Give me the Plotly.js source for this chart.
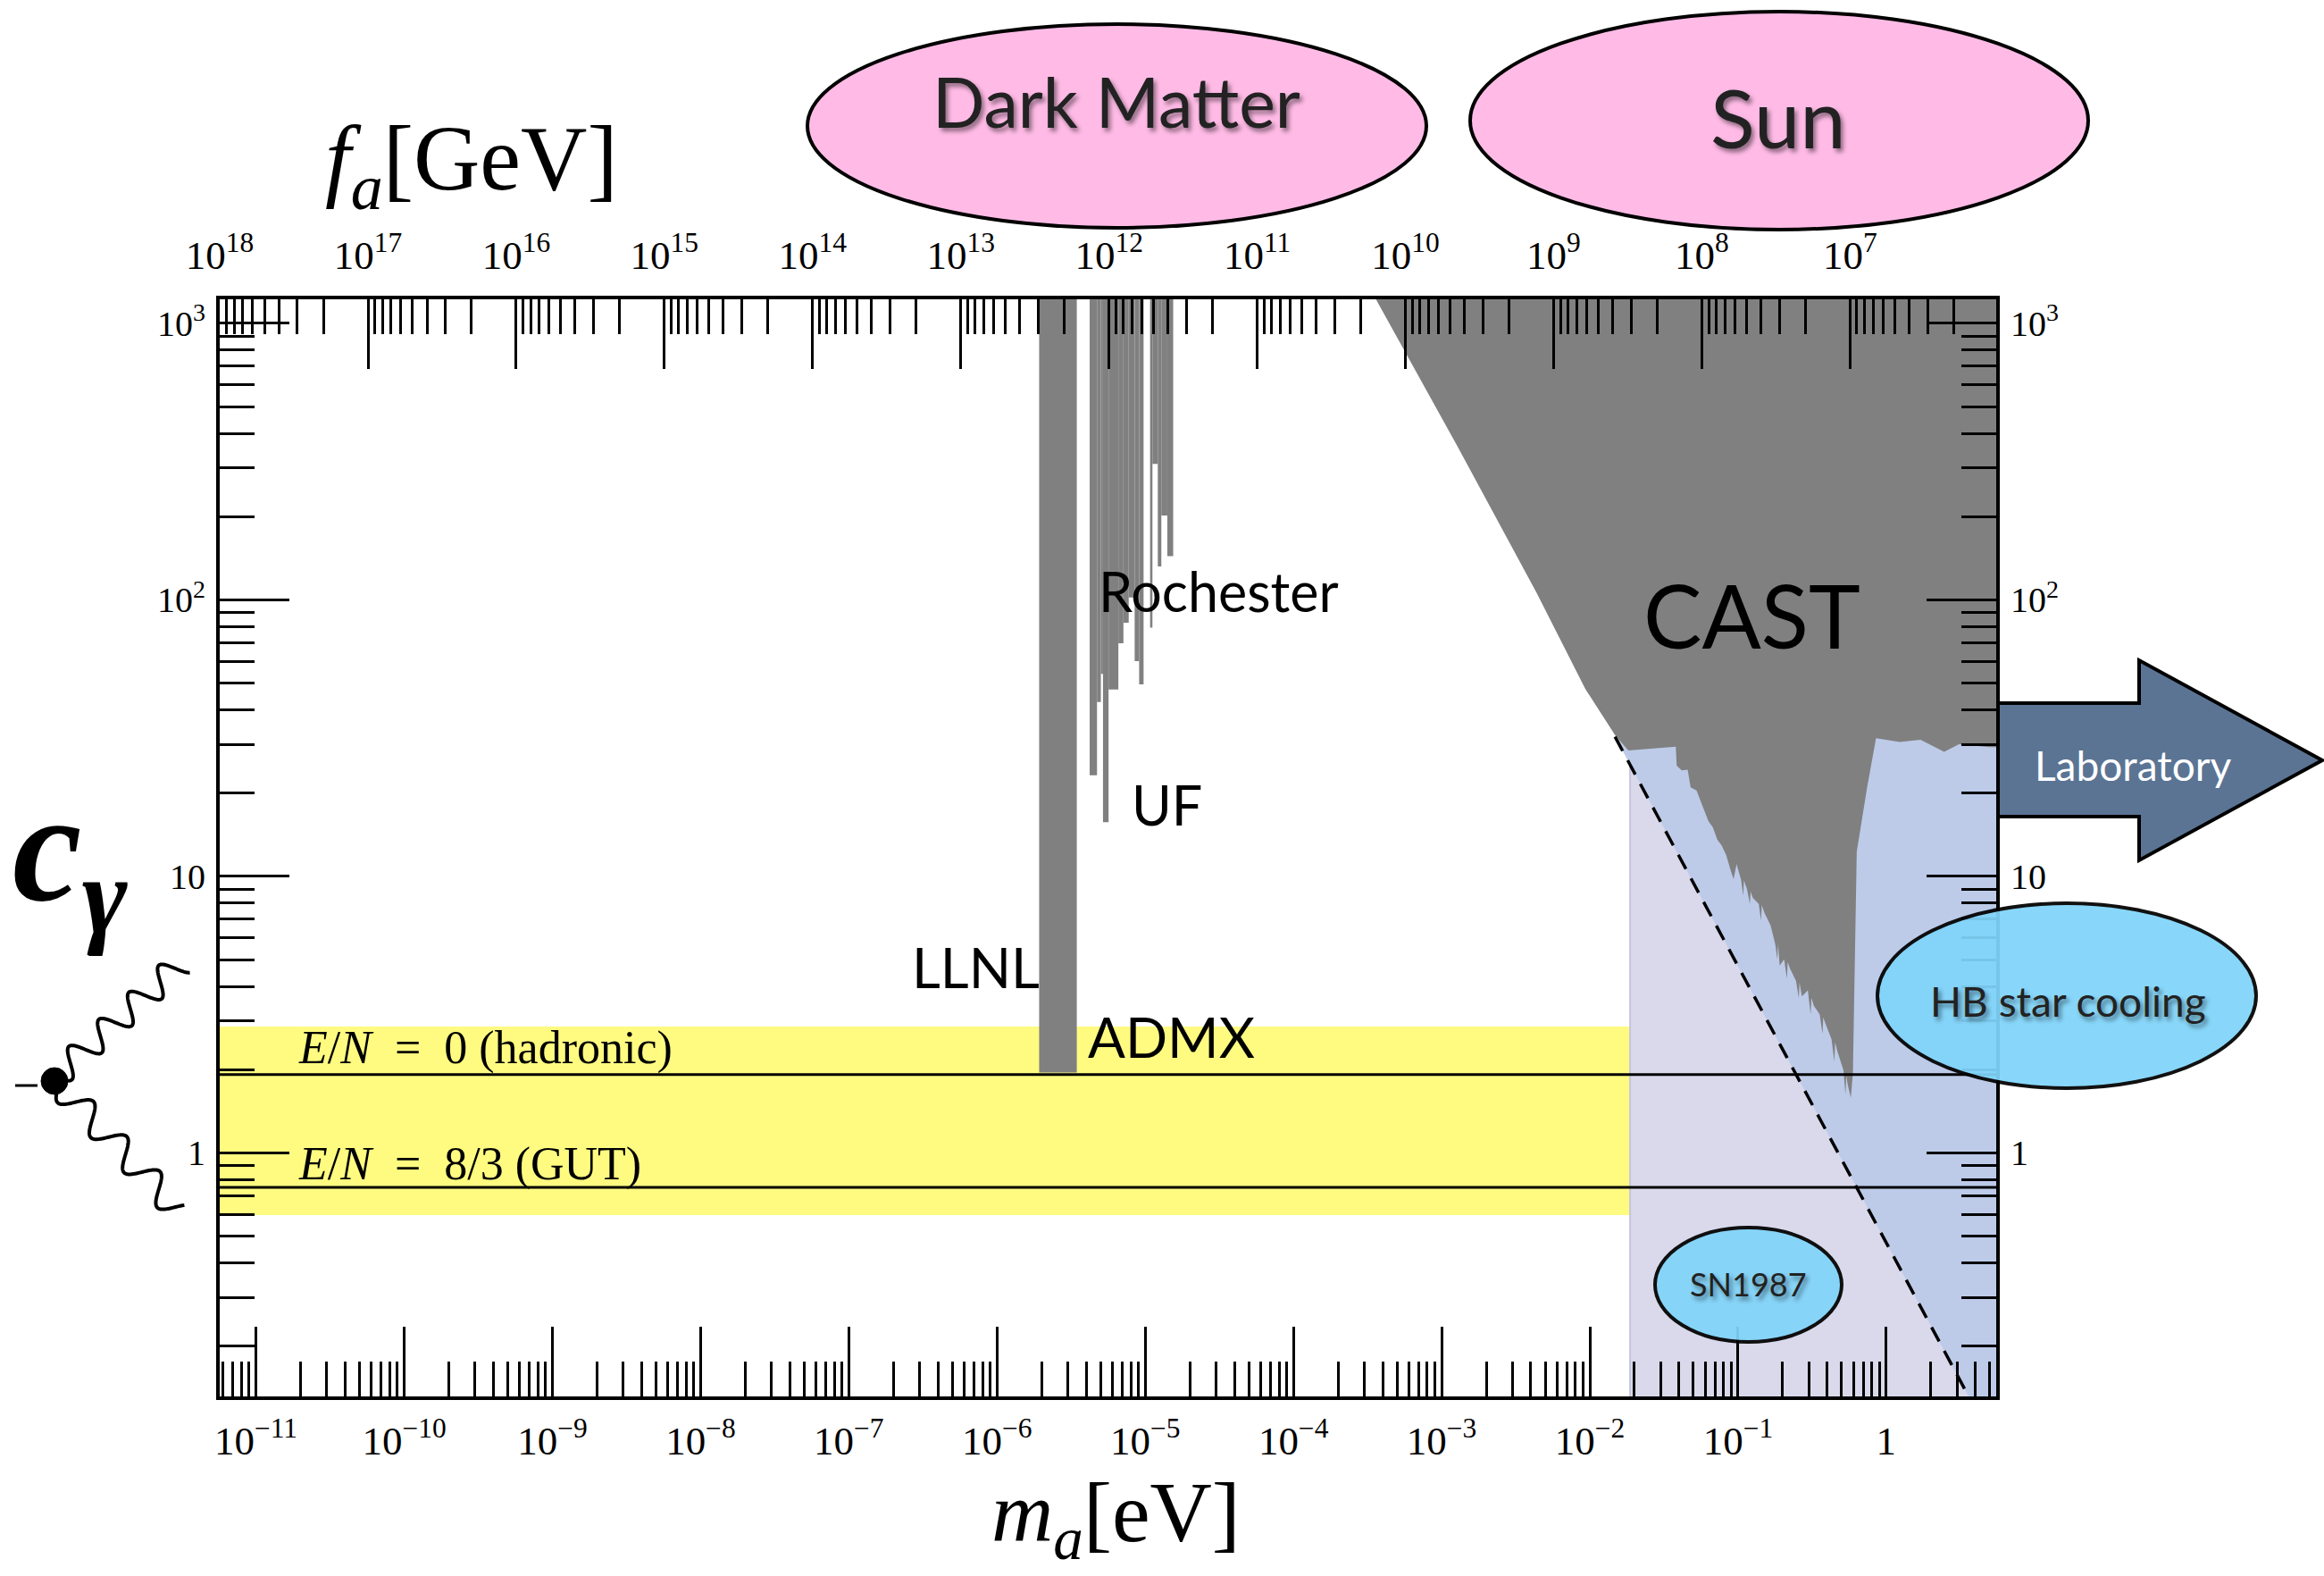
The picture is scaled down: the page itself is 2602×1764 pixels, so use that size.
<!DOCTYPE html>
<html><head><meta charset="utf-8">
<script src="https://cdn.plot.ly/plotly-3.0.1.min.js"></script>
<style>body{margin:0;background:#fff}</style>
</head><body>
<div id="chart" style="width:2602px;height:1764px"></div>
<script>
// ---------------- data ----------------
const FA_TIMES_MA = 5.7e6;               // f_a [GeV] * m_a [eV]
const massLog10Range = [-11.2445, 0.742]; // visible m_a range (log10 eV)
const cLog10Range = [-0.881, 3.087];      // visible c_gamma range (log10)

const massTickExponents = [-11,-10,-9,-8,-7,-6,-5,-4,-3,-2,-1,0];
const faTickExponents = [18,17,16,15,14,13,12,11,10,9,8,7];
const cTickExponents = [0,1,2,3];

// model lines
const hadronicC = 1.92;   // E/N = 0
const gutC = 0.75;        // E/N = 8/3
// yellow band of QCD axion models
const bandMass = [1e-12, 0.0187];
const bandC = [0.596, 2.86];
// lavender region (SN1987)
const snMass = [0.0187, 7];
const snC = [0.12, 28.5];
// ADMX + LLNL
const admxMass = [1.925e-6, 3.455e-6];
const admxCBottom = 1.95;
const cTopBeyond = 2000;
// Rochester / UF strips
const stripMassLo = [4.22e-6,4.73e-6,5.02e-6,5.19e-6,5.66e-6,6.59e-6,7.13e-6,7.74e-6,8.49e-6,9.10e-6,1.079e-5,1.119e-5,1.216e-5,1.285e-5,1.41e-5];
const stripMassHi = [4.73e-6,5.02e-6,5.19e-6,5.66e-6,6.59e-6,7.13e-6,7.74e-6,8.49e-6,9.10e-6,9.75e-6,1.119e-5,1.216e-5,1.285e-5,1.41e-5,1.545e-5];
const stripCBottom = [23.2,42.7,54,15.7,47.4,69.7,82.6,102,60,49.5,79.3,310,132,202,144];
// CAST exclusion (log10 m_a, log10 c_gamma)
const castLog10Mass = [-3.56,-2.90,-2.36,-2.03,-1.83,-1.74,-1.42,-1.414,-1.38,-1.34,-1.32,-1.28,-1.24,-1.20,-1.17,-1.14,-1.11,-1.08,-1.05,-1.03,-1.01,-0.98,-0.965,-0.96,-0.94,-0.92,-0.915,-0.90,-0.86,-0.845,-0.84,-0.82,-0.78,-0.749,-0.735,-0.73,-0.719,-0.689,-0.67,-0.665,-0.649,-0.609,-0.59,-0.585,-0.569,-0.529,-0.51,-0.505,-0.489,-0.449,-0.43,-0.425,-0.409,-0.369,-0.35,-0.345,-0.329,-0.289,-0.275,-0.27,-0.259,-0.239,-0.225,-0.213,-0.199,-0.169,-0.129,-0.069,0.091,0.231,0.391,0.491,0.695,0.80,0.80];
const castLog10C    = [3.2,2.562,2.026,1.6775,1.511,1.455,1.469,1.400,1.383,1.386,1.322,1.311,1.255,1.200,1.177,1.133,1.111,1.077,1.022,0.99,1.044,0.989,0.93,0.985,0.955,0.90,0.945,0.922,0.900,0.84,0.895,0.866,0.822,0.755,0.70,0.755,0.677,0.700,0.63,0.69,0.666,0.622,0.56,0.615,0.566,0.588,0.50,0.56,0.533,0.500,0.43,0.49,0.466,0.411,0.33,0.40,0.366,0.299,0.21,0.28,0.244,0.199,0.288,0.733,1.089,1.189,1.322,1.500,1.486,1.494,1.450,1.478,1.467,1.467,3.2];
// laboratory (blue) region right of the dashed line
const labLog10Mass = [-1.83,0.575,0.80,0.80,-1.83];
const labLog10C    = [1.505,-0.90,-0.90,1.50,1.505];
// dashed line
const dashLog10Mass = [-1.83,0.575];
const dashLog10C    = [1.505,-0.90];

// ---------------- helpers ----------------
const pow10 = v => Math.pow(10, v);
const px = x => (x - 246) / 1989;   // page pixel -> paper
const py = y => (1563 - y) / 1228;
function powLabel(e){ if(e===0) return '1'; if(e===1) return '10'; return '10<sup>'+(e<0?'\u2212':'')+Math.abs(e)+'</sup>'; }
function minorVals(d0,d1){ const v=[]; for(let d=d0; d<=d1; d++) for(let k=2;k<=9;k++) v.push(k*Math.pow(10,d)); return v; }

const GRAY='#808080', YELLOW='#FFFB80', LAV='#D9D9EB', BLUE='#BDCBE9';

const traces = [];
traces.push({x:[bandMass[0],bandMass[1],bandMass[1],bandMass[0],bandMass[0]], y:[bandC[0],bandC[0],bandC[1],bandC[1],bandC[0]],
  mode:'lines', fill:'toself', fillcolor:YELLOW, line:{width:0}, hoverinfo:'skip'});
traces.push({x:[snMass[0],snMass[1],snMass[1],snMass[0],snMass[0]], y:[snC[0],snC[0],snC[1],snC[1],snC[0]],
  mode:'lines', fill:'toself', fillcolor:LAV, line:{width:2,color:'#C4C4DE'}, hoverinfo:'skip'});
traces.push({x:labLog10Mass.map(pow10), y:labLog10C.map(pow10), mode:'lines', fill:'toself', fillcolor:BLUE, line:{width:0}, hoverinfo:'skip'});
traces.push({x:castLog10Mass.map(pow10), y:castLog10C.map(pow10), mode:'lines', fill:'toself', fillcolor:GRAY, line:{width:0}, hoverinfo:'skip'});
traces.push({x:[admxMass[0],admxMass[1],admxMass[1],admxMass[0],admxMass[0]], y:[cTopBeyond,cTopBeyond,admxCBottom,admxCBottom,cTopBeyond],
  mode:'lines', fill:'toself', fillcolor:GRAY, line:{width:0}, hoverinfo:'skip'});
stripMassLo.forEach((lo,i)=>{
  const hi=stripMassHi[i], b=stripCBottom[i];
  traces.push({x:[lo,hi,hi,lo,lo], y:[cTopBeyond,cTopBeyond,b,b,cTopBeyond], mode:'lines', fill:'toself', fillcolor:GRAY, line:{width:0}, hoverinfo:'skip'});
});
traces.push({x:[1e-12,7], y:[hadronicC,hadronicC], mode:'lines', line:{color:'black',width:3}, hoverinfo:'skip'});
traces.push({x:[1e-12,7], y:[gutC,gutC], mode:'lines', line:{color:'black',width:3}, hoverinfo:'skip'});
traces.push({x:dashLog10Mass.map(pow10), y:dashLog10C.map(pow10), mode:'lines', line:{color:'black',width:3.5,dash:'18px,12px'}, hoverinfo:'skip'});
// invisible helpers so the secondary axes are drawn
traces.push({x:[1e12], y:[1], xaxis:'x2', yaxis:'y', mode:'markers', marker:{opacity:0}, hoverinfo:'skip'});
traces.push({x:[1e-5], y:[1], xaxis:'x', yaxis:'y2', mode:'markers', marker:{opacity:0}, hoverinfo:'skip'});

const tickFontX = {family:'Liberation Serif', size:45, color:'black'};
const tickFontY = {family:'Liberation Serif', size:40, color:'black'};
const common = {showline:true, linewidth:4, linecolor:'black', ticks:'inside', ticklen:78, tickwidth:3, tickcolor:'black',
  showgrid:false, zeroline:false, type:'log', tickmode:'array'};
const minorCommon = {ticks:'inside', ticklen:39, tickwidth:3, tickcolor:'black', tickmode:'array', showgrid:false};

const logK = Math.log10(FA_TIMES_MA);

const layout = {
  width:2602, height:1764, margin:{l:246, r:367, t:335, b:201},
  paper_bgcolor:'white', plot_bgcolor:'white', showlegend:false,
  xaxis: Object.assign({}, common, {range:massLog10Range,
    tickvals:massTickExponents.map(pow10), ticktext:massTickExponents.map(powLabel), tickfont:tickFontX, ticklabelstandoff:7,
    minor:Object.assign({}, minorCommon, {tickvals:minorVals(-12,0)})}),
  xaxis2: Object.assign({}, common, {overlaying:'x', side:'top', range:[logK-massLog10Range[0], logK-massLog10Range[1]],
    tickvals:faTickExponents.map(pow10), ticktext:faTickExponents.map(powLabel), tickfont:tickFontX, ticklabelstandoff:12,
    minor:Object.assign({}, minorCommon, {tickvals:minorVals(6,17)})}),
  yaxis: Object.assign({}, common, {range:cLog10Range,
    tickvals:cTickExponents.map(pow10), ticktext:cTickExponents.map(powLabel), tickfont:tickFontY, ticklabelstandoff:4,
    minor:Object.assign({}, minorCommon, {tickvals:minorVals(-1,2)})}),
  yaxis2: Object.assign({}, common, {overlaying:'y', side:'right', range:cLog10Range,
    tickvals:cTickExponents.map(pow10), ticktext:cTickExponents.map(powLabel), tickfont:tickFontY, ticklabelstandoff:4,
    minor:Object.assign({}, minorCommon, {tickvals:minorVals(-1,2)})}),
  shapes:[], annotations:[]
};

// ---------------- decorations ----------------
function ellipse(x0,x1,y0,y1,fill,opacity){
  return {type:'circle', xref:'paper', yref:'paper', x0:px(x0), x1:px(x1), y0:py(y1), y1:py(y0),
    fillcolor:fill, opacity:opacity||1, line:{color:'black', width:4}, layer:'above'};
}
layout.shapes.push(ellipse(904,1597,27,255,'#FFBBE6'));
layout.shapes.push(ellipse(1646,2338,13,257,'#FFBBE6'));
layout.shapes.push(ellipse(1853,2062,1374,1502,'#80D4FA',0.93));
layout.shapes.push(ellipse(2102,2526,1011,1218,'#80D4FA',0.93));

function pathFrom(pts){ return pts.map((p,i)=>(i?'L':'M')+px(p[0]).toFixed(5)+','+py(p[1]).toFixed(5)).join(' ')+' Z'; }
layout.shapes.push({type:'path', xref:'paper', yref:'paper', layer:'above',
  path:pathFrom([[2237,787],[2395,787],[2395,739],[2600,851],[2395,963],[2395,914],[2237,914]]),
  fillcolor:'#5B7494', line:{color:'black', width:4}});

function wavyPath(x0,y0,x1,y1,periods,amp){
  const dx=x1-x0, dy=y1-y0, L=Math.hypot(dx,dy), nx=-dy/L, ny=dx/L; let d='';
  for(let i=0;i<=300;i++){ const t=i/300, o=amp*Math.sin(2*Math.PI*periods*t);
    d+=(i?'L':'M')+px(x0+dx*t+nx*o).toFixed(5)+','+py(y0+dy*t+ny*o).toFixed(5); }
  return d;
}
layout.shapes.push({type:'path', xref:'paper', yref:'paper', path:wavyPath(62,1205,203,1078,4.2,15), line:{color:'black',width:4}});
layout.shapes.push({type:'path', xref:'paper', yref:'paper', path:wavyPath(66,1214,200,1355,3.6,15), line:{color:'black',width:4}});
layout.shapes.push({type:'circle', xref:'paper', yref:'paper', x0:px(46), x1:px(76), y0:py(1225), y1:py(1195), fillcolor:'black', line:{color:'black',width:1}});
layout.shapes.push({type:'line', xref:'paper', yref:'paper', x0:px(17), x1:px(42), y0:py(1215), y1:py(1215), line:{color:'black',width:3}});

function ann(text,x,y,opts){
  return Object.assign({text, xref:'paper', yref:'paper', x:px(x), y:py(y), showarrow:false, xanchor:'center', yanchor:'middle'}, opts||{});
}
const sans = 'Lato, "Open Sans", sans-serif';
const shadow = '3px 4px 5px rgba(0,0,0,0.45)';
const sp = '\u2002';
layout.annotations.push(ann('Dark Matter',1250,113,{font:{family:sans,size:77,color:'#222',shadow}}));
layout.annotations.push(ann('Sun',1991,131,{font:{family:sans,size:92,color:'#222',shadow}}));
layout.annotations.push(ann('SN1987',1957,1437,{font:{family:sans,size:36,color:'#222',shadow}}));
layout.annotations.push(ann('HB star cooling',2315,1120,{font:{family:sans,size:46,color:'#222',shadow}}));
layout.annotations.push(ann('Laboratory',2388,856,{font:{family:sans,size:46,color:'white'}}));
layout.annotations.push(ann('CAST',1961,688,{font:{family:sans,size:98,color:'black'}}));
layout.annotations.push(ann('LLNL',1166,1082,{xanchor:'right',font:{family:sans,size:62,color:'black'}}));
layout.annotations.push(ann('ADMX',1216,1160,{xanchor:'left',font:{family:sans,size:62,color:'black'}}));
layout.annotations.push(ann('Rochester',1228,661,{xanchor:'left',font:{family:sans,size:61,color:'black'}}));
layout.annotations.push(ann('UF',1265,900,{xanchor:'left',font:{family:sans,size:61,color:'black'}}));
layout.annotations.push(ann('<i>E</i>/<i>N</i>'+sp+'='+sp+'0 (hadronic)',332,1173,{xanchor:'left',font:{family:'Liberation Serif',size:52,color:'black'}}));
layout.annotations.push(ann('<i>E</i>/<i>N</i>'+sp+'='+sp+'8/3 (GUT)',332,1303,{xanchor:'left',font:{family:'Liberation Serif',size:52,color:'black'}}));
layout.annotations.push(ann('<i>f</i><sub><i>a</i></sub>[GeV]',362,185,{xanchor:'left',font:{family:'Liberation Serif',size:103,color:'black'}}));
layout.annotations.push(ann('<i>m</i><sub><i>a</i></sub>[eV]',1108,1762,{xanchor:'left',yanchor:'bottom',font:{family:'Liberation Serif',size:96,color:'black'}}));
layout.annotations.push(ann('<b><i>c</i></b><sub><b><i>\u03b3</i></b></sub>',12,960,{xanchor:'left',font:{family:'Liberation Serif',size:175,color:'black'}}));

Plotly.newPlot('chart', traces, layout, {displayModeBar:false, staticPlot:true});
</script>
</body></html>
